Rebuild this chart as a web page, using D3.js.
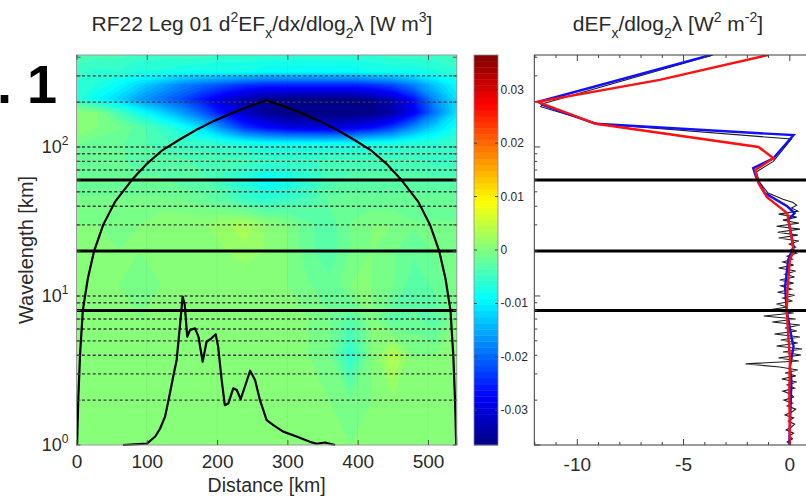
<!DOCTYPE html>
<html>
<head>
<meta charset="utf-8">
<title>RF22 Leg 01</title>
<script src="https://cdn.jsdelivr.net/npm/d3@7/dist/d3.min.js"></script>
<style>
    body { margin: 0; background: #ffffff; }
    text { font-family: "Liberation Sans", Arial, Helvetica, sans-serif; fill: #2a2a2a; }
</style>
</head>
<body>
<svg id="figure" width="806" height="503"></svg>
<script>

// ---------------------------------------------------------------
// Values
// ---------------------------------------------------------------

// grid of the flux divergence map (columns = distance, rows = wavelength, top row first)
const distanceKm = [0, 30, 60, 90, 120, 150, 180, 210, 240, 270, 300, 330, 360, 390, 420, 450, 480, 510, 541];
const gridWavelengthKm = [414, 320, 260, 210, 170, 135, 105, 80, 60, 45, 30, 20, 12, 7, 4, 2, 1];
const fluxDivRows = [
    [-0.004, -0.004, -0.004, -0.005, -0.005, -0.005, -0.005, -0.006, -0.006, -0.006, -0.006, -0.006, -0.006, -0.006, -0.006, -0.005, -0.005, -0.005, -0.004],
    [-0.005, -0.006, -0.006, -0.007, -0.007, -0.008, -0.008, -0.008, -0.008, -0.009, -0.009, -0.009, -0.009, -0.009, -0.008, -0.008, -0.008, -0.007, -0.006],
    [-0.006, -0.007, -0.009, -0.012, -0.015, -0.018, -0.020, -0.022, -0.024, -0.025, -0.025, -0.025, -0.025, -0.025, -0.024, -0.022, -0.018, -0.013, -0.009],
    [-0.006, -0.009, -0.012, -0.016, -0.019, -0.022, -0.026, -0.030, -0.033, -0.035, -0.036, -0.036, -0.036, -0.036, -0.035, -0.032, -0.026, -0.017, -0.011],
    [0.001, 0.000, -0.004, -0.008, -0.012, -0.016, -0.021, -0.027, -0.032, -0.035, -0.037, -0.037, -0.037, -0.037, -0.036, -0.034, -0.028, -0.019, -0.011],
    [0.001, 0.000, -0.001, -0.003, -0.005, -0.008, -0.012, -0.018, -0.024, -0.027, -0.029, -0.030, -0.030, -0.029, -0.027, -0.023, -0.017, -0.012, -0.008],
    [-0.001, -0.002, -0.002, -0.003, -0.004, -0.005, -0.005, -0.006, -0.007, -0.008, -0.008, -0.008, -0.008, -0.008, -0.007, -0.007, -0.006, -0.006, -0.005],
    [-0.002, -0.002, -0.002, -0.003, -0.003, -0.003, -0.004, -0.004, -0.004, -0.005, -0.005, -0.005, -0.004, -0.004, -0.004, -0.004, -0.004, -0.005, -0.005],
    [-0.002, -0.002, -0.002, -0.002, -0.002, -0.003, -0.003, -0.005, -0.007, -0.009, -0.008, -0.006, -0.004, -0.003, -0.003, -0.003, -0.003, -0.003, -0.003],
    [-0.001, -0.001, -0.001, -0.001, -0.001, -0.001, -0.002, -0.003, -0.005, -0.006, -0.005, -0.004, -0.002, -0.002, -0.002, -0.002, -0.002, -0.002, -0.002],
    [0, 0, -0.001, 0, 0.001, 0.001, 0.001, 0.002, 0.003, 0.001, 0, -0.002, -0.003, -0.001, 0, 0, -0.001, -0.001, -0.001],
    [0, 0, 0, 0, 0, 0.001, 0, 0.001, 0.002, 0.001, 0, -0.002, -0.003, -0.001, 0, -0.001, -0.002, -0.001, 0],
    [0, 0, 0, -0.001, 0, 0, 0, 0, 0, 0, 0, -0.001, -0.002, 0, 0, -0.001, -0.003, -0.002, 0],
    [0, 0, 0, 0, 0, 0, 0, 0, 0, 0, 0, 0, -0.001, -0.003, 0, -0.003, -0.002, -0.003, 0],
    [0, 0, 0, 0, 0, 0, 0, 0, 0, 0, 0, 0, -0.001, -0.006, 0, 0.004, 0, 0, 0],
    [0, 0, 0, 0, 0, 0, 0, 0, 0, 0, 0, 0, 0, -0.001, 0, 0.001, 0, 0, 0],
    [0, 0, 0, 0, 0, 0, 0, 0, 0, 0, 0, 0, 0, 0, 0, 0, 0, 0, 0]
];

const colorLimits = [-0.0365, 0.0365];
const colorbarTicks = [-0.03, -0.02, -0.01, 0, 0.01, 0.02, 0.03];

// horizontal reference wavelengths
const dashedWavelengths = [2, 3, 4, 5, 6, 7, 9, 10, 30, 40, 50, 70, 80, 90, 100, 200, 300];
const solidWavelengths = [8, 20, 60];

// cone of influence
const coiDistance = [0.8, 2.5, 5, 9, 16, 25, 38, 55, 80, 100, 122, 145, 170, 195, 220, 245, 270.5,
    296, 321, 346, 371, 396, 419, 441, 461, 486, 503, 516, 525, 532, 536, 538.5, 540.2];
const coiWavelength = [1, 2, 4, 8, 13, 20, 30, 43, 61, 77, 95, 111, 130, 149, 168, 187, 206,
    187, 168, 149, 130, 111, 95, 77, 61, 43, 30, 20, 13, 8, 4, 2, 1];

// terrain trace (plotted in wavelength units)
const terrainDistance = [66, 100, 112, 119, 126, 133, 138, 142.5, 147, 151, 154, 157.5, 161.5, 168.5, 173.5,
    179.5, 185, 192, 198, 201.5, 206.5, 211, 216, 223, 228, 233.5, 239.5, 247, 254, 261, 270.5, 280, 294,
    313, 332, 342, 353.5, 360.5, 368];
const terrainWavelength = [1.0, 1.02, 1.14, 1.29, 1.55, 2.23, 2.95, 3.72, 6.2, 9.9, 8.7, 5.33, 5.9, 6.07, 5.33,
    3.62, 4.93, 5.2, 5.53, 4.57, 2.73, 1.85, 1.9, 2.4, 2.34, 2.03, 2.46, 3.15, 2.73, 2.0, 1.47, 1.36, 1.23,
    1.14, 1.05, 1.02, 1.04, 1.02, 1.0];

const distanceTicks = [0, 100, 200, 300, 400, 500];

// right panel profiles: dEFx/dlog2(lambda)
const blueWavelength = [414, 201, 190, 143, 120, 84, 72, 62, 49, 40, 36, 32.4, 21.4, 17.5, 11.5, 8, 5.3, 4.6, 3.35, 2.7, 1];
const blueFlux = [-3.7, -11.8, -11.55, -9.1, 0.2, -0.75, -1.7, -1.55, -1.15, -0.1, 0.25, -0.05, 0.2, -0.05, -0.2, -0.12, 0.1, 0.2, 0.03, 0.1, 0.0];

const redWavelength = [414, 282, 201, 143, 100, 84, 70, 57, 46, 36, 25, 20, 17.5, 11.5, 8, 5.5, 3.8, 2.3, 1];
const redFlux = [-1.0, -6.1, -11.85, -9.1, -1.45, -0.75, -1.6, -1.45, -1.05, -0.1, 0.1, 0.2, 0.03, -0.08, -0.12, -0.05, 0.03, 0.0, 0.03];

const blackWavelength = [414, 195, 186, 143, 113, 80, 68, 58, 49, 46.5,
    44.6, 42.6, 40.7, 38.9, 37.1, 35.4, 33.8, 32.3, 30.8, 29.4, 28.1, 26.8, 25.6, 24.5, 23.4, 22.3,
    21.3, 20.3, 19.4, 18.5, 17.7, 16.9, 16.1, 15.4, 14.7, 14.0, 13.4, 12.8, 12.2, 11.7, 11.1, 10.6,
    10.1, 9.69, 9.25, 8.83, 8.43, 8.05, 7.69, 7.34, 7.01, 6.69, 6.39, 6.10, 5.82, 5.56, 5.31, 5.07,
    4.84, 4.62, 4.41, 4.21, 4.02, 3.84, 3.66, 3.50, 3.34, 3.19, 3.04, 2.91, 2.77, 2.65, 2.53, 2.41,
    2.30, 2.20, 2.10, 2.00, 1.91, 1.83, 1.74, 1.66, 1.59, 1.52, 1.45, 1.38, 1.32, 1.26, 1.20, 1.15,
    1.10, 1.05, 1.00];
const blackFlux = [-3.6, -11.6, -11.7, -9.0, 0.1, -0.75, -1.55, -1.4, -1.0, -0.6,
    -0.3, 0.15, 0.35, 0.1, 0.4, -0.5, 0.35, -0.3, 0.45, -0.6, 0.5, -0.55, 0.4, -0.5, 0.45, 0.0,
    0.3, 0.05, 0.35, -0.1, 0.15, -0.3, 0.2, -0.5, 0.3, -0.2, 0.25, -0.45, 0.2, -0.4, 0.1, -0.55,
    0.25, -0.3, 0.15, -0.6, -0.1, -1.0, 0.2, -1.2, 0.3, -0.8, 0.5, -0.2, 0.35, -0.7, 0.5, -0.4,
    0.4, -0.6, 0.6, -0.3, 0.55, -0.5, 0.45, -2.05, -0.45, 0.4, -0.2, 0.3, -0.35, 0.35, -0.1, 0.25,
    -0.3, 0.05, 0.2, -0.25, 0.15, -0.1, 0.3, 0.1, -0.2, 0.2, -0.05, 0.25, 0.1, -0.15, 0.2, 0.0,
    0.15, -0.1, 0.05];

const fluxMajorTicks = [-10, -5, 0];


// ---------------------------------------------------------------
// Shared bits
// ---------------------------------------------------------------

let svg = d3.select("#figure");

// wavelength axis is the same for both panels
let yWave = d3.scaleLog().domain([1, 414]).range([445, 55]);

// MATLAB-like jet colour map
let jet = d3.scaleLinear()
    .domain([0, 0.125, 0.375, 0.625, 0.875, 1])
    .range(["#000080", "#0000ff", "#00ffff", "#ffff00", "#ff0000", "#800000"])
    .interpolate(d3.interpolateRgb)
    .clamp(true);

// text with super/subscripts: parts = [[string, shift]] with shift 1 = sup, -1 = sub
function richText(g, x, y, size, parts, anchor) {
    let t = g.append("text")
        .attr("x", x)
        .attr("y", y)
        .style("font-size", size + "px")
        .style("text-anchor", anchor || "middle");
    let current = 0;
    parts.forEach(function (p) {
        let target = p[1] === 1 ? -size * 0.42 : (p[1] === -1 ? size * 0.33 : 0);
        t.append("tspan")
            .attr("dy", target - current)
            .style("font-size", p[1] === 0 ? size + "px" : Math.round(size * 0.66) + "px")
            .text(p[0]);
        current = target;
    });
    return t;
}


// ---------------------------------------------------------------
// Left panel: wavelet flux divergence map + colour bar
// ---------------------------------------------------------------

class WaveletMap {

    constructor(_svg) {
        this.svg = _svg;
        this.initVis();
    }

    initVis() {
        let vis = this;

        vis.left = 76.5;
        vis.right = 456.8;
        vis.top = 55;
        vis.bottom = 445;

        vis.x = d3.scaleLinear().domain([0, 541]).range([vis.left, vis.right]);
        vis.y = yWave;

        vis.g = vis.svg.append("g").attr("class", "wavelet-map");

        vis.drawContours();
        vis.drawLines();
        vis.drawAxes();
        vis.drawColorbar();
    }

    drawContours() {
        let vis = this;

        vis.nLevels = 64;
        vis.step = (colorLimits[1] - colorLimits[0]) / vis.nLevels;
        let lowerBounds = d3.range(vis.nLevels).map(function (k) {
            return k === 0 ? -1 : colorLimits[0] + k * vis.step;
        });

        let nx = distanceKm.length, ny = gridWavelengthKm.length;
        let values = fluxDivRows.flat();

        let contours = d3.contours()
            .size([nx, ny])
            .thresholds(lowerBounds)(values);

        // grid coordinates -> data -> pixels
        let colToDist = d3.scaleLinear().domain(d3.range(nx)).range(distanceKm).clamp(true);
        let rowToLog = d3.scaleLinear().domain(d3.range(ny)).range(gridWavelengthKm.map(Math.log10)).clamp(true);
        let gridProjection = d3.geoTransform({
            point: function (gx, gy) {
                this.stream.point(vis.x(colToDist(gx - 0.5)), vis.y(Math.pow(10, rowToLog(gy - 0.5))));
            }
        });
        let path = d3.geoPath(gridProjection);

        vis.g.append("g")
            .selectAll("path")
            .data(contours)
            .enter().append("path")
            .attr("d", path)
            .style("fill", function (d, i) { return jet((i + 0.5) / vis.nLevels); })
            .style("stroke", "none");

        // faint seams at the distance ticks, as in the original rendering
        vis.g.append("g")
            .selectAll("line")
            .data(distanceTicks.slice(1))
            .enter().append("line")
            .attr("x1", function (d) { return vis.x(d); })
            .attr("x2", function (d) { return vis.x(d); })
            .attr("y1", vis.top)
            .attr("y2", vis.bottom)
            .style("stroke", "#000")
            .style("stroke-opacity", 0.05);
    }

    drawLines() {
        let vis = this;

        vis.g.append("g")
            .selectAll("line")
            .data(dashedWavelengths)
            .enter().append("line")
            .attr("x1", vis.left)
            .attr("x2", vis.right)
            .attr("y1", function (d) { return vis.y(d); })
            .attr("y2", function (d) { return vis.y(d); })
            .style("stroke", "#3a3a3a")
            .style("stroke-width", 1.4)
            .style("stroke-dasharray", "3,2.4");

        vis.g.append("g")
            .selectAll("line")
            .data(solidWavelengths)
            .enter().append("line")
            .attr("x1", vis.left)
            .attr("x2", vis.right)
            .attr("y1", function (d) { return vis.y(d); })
            .attr("y2", function (d) { return vis.y(d); })
            .style("stroke", "#000")
            .style("stroke-width", 3);

        let line = d3.line()
            .x(function (d) { return vis.x(d[0]); })
            .y(function (d) { return vis.y(d[1]); });

        vis.g.append("path")
            .attr("d", line(d3.zip(coiDistance, coiWavelength)))
            .style("fill", "none")
            .style("stroke", "#000")
            .style("stroke-width", 2.2);

        vis.g.append("path")
            .attr("d", line(d3.zip(terrainDistance, terrainWavelength)))
            .style("fill", "none")
            .style("stroke", "#000")
            .style("stroke-width", 2.2)
            .style("stroke-linejoin", "round");
    }

    drawAxes() {
        let vis = this;

        // frame
        vis.g.append("rect")
            .attr("x", vis.left)
            .attr("y", vis.top)
            .attr("width", vis.right - vis.left)
            .attr("height", vis.bottom - vis.top)
            .style("fill", "none")
            .style("stroke", "#9a9a9a")
            .style("stroke-width", 1);

        let xAxis = d3.axisBottom(vis.x)
            .tickValues(distanceTicks)
            .tickSizeInner(-5)
            .tickSizeOuter(0)
            .tickPadding(10)
            .tickFormat(function (d) { return String(d); });

        let gx = vis.g.append("g")
            .attr("class", "x-axis axis")
            .attr("transform", "translate(0," + vis.bottom + ")")
            .call(xAxis);
        gx.select(".domain").remove();
        gx.selectAll("line").style("stroke", "#555");
        gx.selectAll("text").style("font-size", "19px").style("fill", "#2a2a2a").style("font-family", null);

        let gxTop = vis.g.append("g")
            .attr("transform", "translate(0," + vis.top + ")")
            .call(d3.axisTop(vis.x).tickValues(distanceTicks).tickSizeInner(-5).tickSizeOuter(0).tickFormat(""));
        gxTop.select(".domain").remove();
        gxTop.selectAll("line").style("stroke", "#555");

        // log ticks on both sides
        let yTicks = vis.y.ticks();
        [[vis.left, 4], [vis.right, -4]].forEach(function (side) {
            vis.g.append("g")
                .selectAll("line")
                .data(yTicks)
                .enter().append("line")
                .attr("x1", side[0])
                .attr("x2", side[0] + side[1])
                .attr("y1", function (d) { return vis.y(d); })
                .attr("y2", function (d) { return vis.y(d); })
                .style("stroke", "#555");
        });

        [[1, "0"], [10, "1"], [100, "2"]].forEach(function (p) {
            richText(vis.g, vis.left - 8, vis.y(p[0]) + 6, 18, [["10", 0], [p[1], 1]], "end");
        });

        // axis titles
        vis.g.append("text")
            .attr("class", "axis-text")
            .attr("x", (vis.left + vis.right) / 2)
            .attr("y", 492)
            .style("text-anchor", "middle")
            .style("font-size", "19.5px")
            .text("Distance [km]");

        vis.g.append("text")
            .attr("class", "axis-text")
            .attr("transform", "translate(33," + ((vis.top + vis.bottom) / 2) + ") rotate(-90)")
            .style("text-anchor", "middle")
            .style("font-size", "20px")
            .text("Wavelength [km]");

        richText(vis.g, 262, 31, 21, [
            ["RF22 Leg 01 d", 0], ["2", 1], ["EF", 0], ["x", -1], ["/dx/dlog", 0], ["2", -1],
            ["λ [W m", 0], ["3", 1], ["]", 0]
        ]);
    }

    drawColorbar() {
        let vis = this;

        let cbLeft = 474, cbRight = 498;
        let cb = d3.scaleLinear().domain(colorLimits).range([vis.bottom, vis.top]);

        let g = vis.svg.append("g").attr("class", "colorbar");

        g.selectAll("rect.level")
            .data(d3.range(vis.nLevels))
            .enter().append("rect")
            .attr("class", "level")
            .attr("x", cbLeft)
            .attr("width", cbRight - cbLeft)
            .attr("y", function (k) { return cb(colorLimits[0] + (k + 1) * vis.step); })
            .attr("height", function (k) { return cb(colorLimits[0] + k * vis.step) - cb(colorLimits[0] + (k + 1) * vis.step) + 0.4; })
            .style("fill", function (k) { return jet((k + 0.5) / vis.nLevels); });

        g.append("rect")
            .attr("x", cbLeft)
            .attr("y", vis.top)
            .attr("width", cbRight - cbLeft)
            .attr("height", vis.bottom - vis.top)
            .style("fill", "none")
            .style("stroke", "#8a8a8a")
            .style("stroke-width", 0.8);

        [[cbLeft, 3], [cbRight, -3]].forEach(function (side) {
            g.append("g")
                .selectAll("line")
                .data(colorbarTicks)
                .enter().append("line")
                .attr("x1", side[0])
                .attr("x2", side[0] + side[1])
                .attr("y1", function (d) { return cb(d); })
                .attr("y2", function (d) { return cb(d); })
                .style("stroke", "#444");
        });

        g.selectAll("text")
            .data(colorbarTicks)
            .enter().append("text")
            .attr("x", cbRight + 2.5)
            .attr("y", function (d) { return cb(d) + 4; })
            .style("font-size", "12px")
            .text(function (d) { return d === 0 ? "0" : d.toFixed(2); });
    }
}


// ---------------------------------------------------------------
// Right panel: scale-by-scale flux profiles
// ---------------------------------------------------------------

class FluxProfile {

    constructor(_svg) {
        this.svg = _svg;
        this.initVis();
    }

    initVis() {
        let vis = this;

        vis.left = 534.3;
        vis.top = 55;
        vis.bottom = 445;

        vis.x = d3.scaleLinear().domain([-12, 1]).range([vis.left, vis.left + 13 * 21.25]);
        vis.right = vis.x(1);
        vis.y = yWave;

        vis.g = vis.svg.append("g").attr("class", "flux-profile");

        vis.g.append("clipPath")
            .attr("id", "profile-clip")
            .append("rect")
            .attr("x", vis.left)
            .attr("y", vis.top)
            .attr("width", vis.right - vis.left)
            .attr("height", vis.bottom - vis.top);

        let line = d3.line()
            .x(function (d) { return vis.x(d[1]); })
            .y(function (d) { return vis.y(d[0]); });

        let lines = vis.g.append("g").attr("clip-path", "url(#profile-clip)");

        lines.append("path")
            .attr("d", line(d3.zip(blackWavelength, blackFlux)))
            .style("fill", "none")
            .style("stroke", "#1e1e1e")
            .style("stroke-width", 1.1);

        lines.append("path")
            .attr("d", line(d3.zip(blueWavelength, blueFlux)))
            .style("fill", "none")
            .style("stroke", "#1010ff")
            .style("stroke-width", 2.4);

        lines.append("path")
            .attr("d", line(d3.zip(redWavelength, redFlux)))
            .style("fill", "none")
            .style("stroke", "#ff1010")
            .style("stroke-width", 2.4);

        lines.selectAll("line.ref")
            .data(solidWavelengths)
            .enter().append("line")
            .attr("class", "ref")
            .attr("x1", vis.left)
            .attr("x2", vis.right)
            .attr("y1", function (d) { return vis.y(d); })
            .attr("y2", function (d) { return vis.y(d); })
            .style("stroke", "#000")
            .style("stroke-width", 3);

        vis.drawAxes();
    }

    drawAxes() {
        let vis = this;

        vis.g.append("rect")
            .attr("x", vis.left)
            .attr("y", vis.top)
            .attr("width", vis.right - vis.left)
            .attr("height", vis.bottom - vis.top)
            .style("fill", "none")
            .style("stroke", "#3a3a3a")
            .style("stroke-width", 1);

        let minorTicks = d3.range(-12, 2);

        let xAxis = d3.axisBottom(vis.x)
            .tickValues(minorTicks)
            .tickSizeInner(-3)
            .tickSizeOuter(0)
            .tickPadding(13)
            .tickFormat(function (d) { return fluxMajorTicks.includes(d) ? String(d) : ""; });

        let gx = vis.g.append("g")
            .attr("class", "x-axis axis")
            .attr("transform", "translate(0," + vis.bottom + ")")
            .call(xAxis);
        gx.select(".domain").remove();
        gx.selectAll("line").style("stroke", "#444");
        gx.selectAll(".tick")
            .filter(function (d) { return fluxMajorTicks.includes(d); })
            .select("line").attr("y2", -6);
        gx.selectAll("text").style("font-size", "19px").style("fill", "#2a2a2a").style("font-family", null);

        let gxTop = vis.g.append("g")
            .attr("transform", "translate(0," + vis.top + ")")
            .call(d3.axisTop(vis.x).tickValues(minorTicks).tickSizeInner(-3).tickSizeOuter(0).tickFormat(""));
        gxTop.select(".domain").remove();
        gxTop.selectAll("line").style("stroke", "#444");
        gxTop.selectAll(".tick")
            .filter(function (d) { return fluxMajorTicks.includes(d); })
            .select("line").attr("y2", 6);

        vis.g.append("g")
            .selectAll("line")
            .data(vis.y.ticks())
            .enter().append("line")
            .attr("x1", vis.left)
            .attr("x2", function (d) { return vis.left + ([1, 10, 100].includes(d) ? 6 : 3); })
            .attr("y1", function (d) { return vis.y(d); })
            .attr("y2", function (d) { return vis.y(d); })
            .style("stroke", "#444");

        richText(vis.g, 668, 31, 21, [
            ["dEF", 0], ["x", -1], ["/dlog", 0], ["2", -1], ["λ [W", 0], ["2", 1], [" m", 0], ["-2", 1], ["]", 0]
        ]);
    }
}


new WaveletMap(svg);
new FluxProfile(svg);

// panel label, cut by the left edge as in the original
svg.append("text")
    .attr("x", 57)
    .attr("y", 103)
    .style("text-anchor", "end")
    .style("font-size", "54px")
    .style("font-weight", "700")
    .style("fill", "#000")
    .text("Fig. 1");

</script>
</body>
</html>
